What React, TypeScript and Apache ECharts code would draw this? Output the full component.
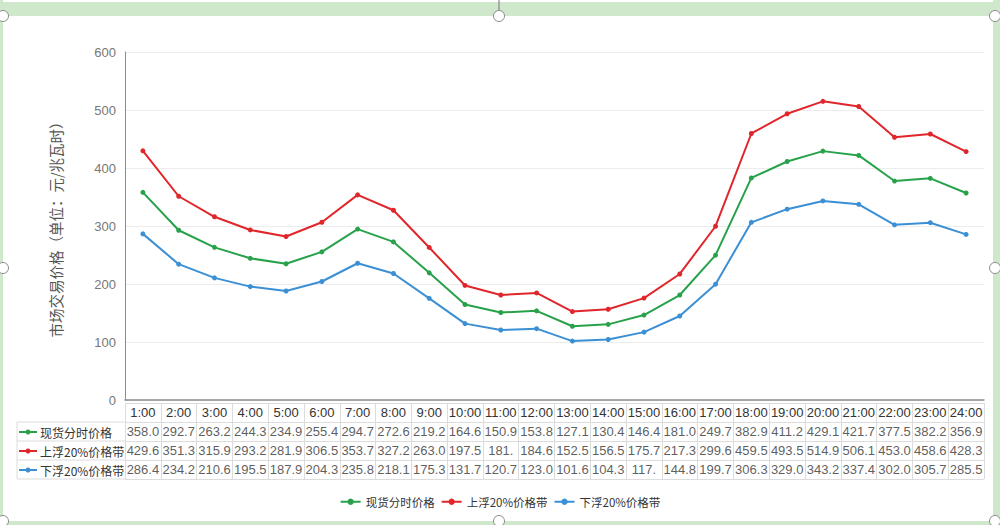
import React, { useEffect, useRef } from "react";
import * as echarts from "echarts";

const hours = ["1:00","2:00","3:00","4:00","5:00","6:00","7:00","8:00","9:00","10:00","11:00","12:00","13:00","14:00","15:00","16:00","17:00","18:00","19:00","20:00","21:00","22:00","23:00","24:00"];
const spotText = ["358.0","292.7","263.2","244.3","234.9","255.4","294.7","272.6","219.2","164.6","150.9","153.8","127.1","130.4","146.4","181.0","249.7","382.9","411.2","429.1","421.7","377.5","382.2","356.9"];
const upperText = ["429.6","351.3","315.9","293.2","281.9","306.5","353.7","327.2","263.0","197.5","181.","184.6","152.5","156.5","175.7","217.3","299.6","459.5","493.5","514.9","506.1","453.0","458.6","428.3"];
const lowerText = ["286.4","234.2","210.6","195.5","187.9","204.3","235.8","218.1","175.3","131.7","120.7","123.0","101.6","104.3","117.","144.8","199.7","306.3","329.0","343.2","337.4","302.0","305.7","285.5"];
const seriesNames = ["现货分时价格", "上浮20%价格带", "下浮20%价格带"];
const yAxisName = "市场交易价格（单位：元/兆瓦时）";

const COLORS = ["#27a24b", "#e0262b", "#3b8fd4"];
const CJK = "'Noto Sans CJK SC', 'Liberation Sans', sans-serif";
const NUM = "'Liberation Sans', 'Noto Sans CJK SC', sans-serif";

export default function App() {
  const ref = useRef<HTMLDivElement>(null);
  useEffect(() => {
    if (!ref.current) return;
    const chart = echarts.init(ref.current, undefined, { renderer: "svg" });
    const texts = [spotText, upperText, lowerText];
    const values = texts.map((t) => t.map((s) => Number(s)));
    const tableData: any[] = [];
    texts.forEach((row, r) => row.forEach((s, i) => tableData.push({ value: [i, r + 1], text: s })));

    const rowY = [432, 451, 470];
    const labelGraphics: any[] = [];
    seriesNames.forEach((n, r) => {
      labelGraphics.push({ type: "line", shape: { x1: 19, y1: rowY[r], x2: 37, y2: rowY[r] }, style: { stroke: COLORS[r], lineWidth: 2 } });
      labelGraphics.push({ type: "circle", shape: { cx: 28, cy: rowY[r], r: 2.5 }, style: { fill: COLORS[r] } });
      labelGraphics.push({ type: "text", x: 40, y: rowY[r], style: { text: n, fill: "#333", font: `12px ${CJK}`, textVerticalAlign: "middle" } });
    });
    [422, 441, 460, 479].forEach((y) => {
      labelGraphics.push({ type: "line", shape: { x1: 17, y1: y, x2: 125, y2: y }, style: { stroke: "#dcdcdc", lineWidth: 1 } });
    });
    labelGraphics.push({ type: "line", shape: { x1: 17, y1: 422, x2: 17, y2: 479 }, style: { stroke: "#dcdcdc", lineWidth: 1 } });

    const frameFill = "#cfe8cc";
    const handles = [[3, 16], [499, 16], [995, 16], [3, 268], [995, 268], [3, 521], [499, 521], [995, 521]];
    const frame: any[] = [
      { type: "rect", shape: { x: 0, y: 2, width: 1000, height: 14 }, style: { fill: frameFill } },
      { type: "rect", shape: { x: 0, y: 0, width: 3, height: 525 }, style: { fill: frameFill } },
      { type: "rect", shape: { x: 993, y: 0, width: 7, height: 525 }, style: { fill: frameFill } },
      { type: "rect", shape: { x: 0, y: 521, width: 1000, height: 4 }, style: { fill: frameFill } },
      { type: "line", shape: { x1: 499, y1: 0, x2: 499, y2: 10 }, style: { stroke: "#777", lineWidth: 1 } },
      ...handles.map(([cx, cy]) => ({ type: "circle", z: 10, shape: { cx, cy, r: 5.5 }, style: { fill: "#fff", stroke: "#888", lineWidth: 1 } })),
    ];

    chart.setOption({
      animation: false,
      backgroundColor: "#fff",
      color: COLORS,
      grid: [
        { left: 125, right: 16, top: 52, bottom: 125 },
        { left: 125, right: 16, top: 403, height: 76 },
      ],
      legend: {
        data: seriesNames,
        top: 491,
        left: "center",
        itemWidth: 20,
        itemHeight: 8,
        itemGap: 6,
        textStyle: { fontSize: 11.5, color: "#333", fontFamily: CJK },
      },
      xAxis: [
        {
          type: "category",
          gridIndex: 0,
          data: hours,
          boundaryGap: true,
          axisLine: { lineStyle: { color: "#8c8c8c", width: 1.5 } },
          axisTick: { show: false },
          axisLabel: { interval: 0, margin: 6, fontSize: 13, color: "#333", fontFamily: NUM },
        },
        {
          type: "category",
          gridIndex: 1,
          data: hours,
          boundaryGap: true,
          axisLine: { show: false },
          axisTick: { show: false },
          axisLabel: { show: false },
          splitLine: { show: true, interval: 0, lineStyle: { color: "#dcdcdc", width: 1 } },
        },
      ],
      yAxis: [
        {
          type: "value",
          gridIndex: 0,
          min: 0,
          max: 600,
          interval: 100,
          name: yAxisName,
          nameLocation: "middle",
          nameGap: 62,
          nameRotate: 90,
          nameTextStyle: { fontSize: 14.5, color: "#555", fontFamily: CJK },
          axisLine: { show: true, lineStyle: { color: "#8c8c8c", width: 1 } },
          axisTick: { show: false },
          axisLabel: { fontSize: 13, color: "#777", margin: 9, fontFamily: NUM },
          splitLine: { lineStyle: { color: "#ececec", width: 1 } },
        },
        {
          type: "category",
          gridIndex: 1,
          inverse: true,
          data: ["h", "a", "b", "c"],
          boundaryGap: true,
          axisLine: { show: false },
          axisTick: { show: false },
          axisLabel: { show: false },
          splitLine: { show: true, interval: 0, lineStyle: { color: "#dcdcdc", width: 1 } },
        },
      ],
      series: [
        ...seriesNames.map((n, k) => ({
          name: n,
          type: "line",
          xAxisIndex: 0,
          yAxisIndex: 0,
          data: values[k],
          symbol: "circle",
          symbolSize: 5,
          lineStyle: { width: 2, color: COLORS[k] },
          itemStyle: { color: COLORS[k] },
        })),
        {
          type: "scatter",
          xAxisIndex: 1,
          yAxisIndex: 1,
          silent: true,
          symbolSize: 0,
          itemStyle: { color: "rgba(0,0,0,0)" },
          data: tableData,
          labelLayout: { hideOverlap: false },
          label: {
            show: true,
            position: "inside",
            formatter: (p: any) => p.data.text,
            fontSize: 13,
            color: "#333",
            fontFamily: NUM,
          },
        },
      ],
      graphic: [...frame, ...labelGraphics],
    });
    return () => chart.dispose();
  }, []);
  return <div ref={ref} style={{ position: "fixed", left: 0, top: 0, width: 1000, height: 525 }} />;
}
